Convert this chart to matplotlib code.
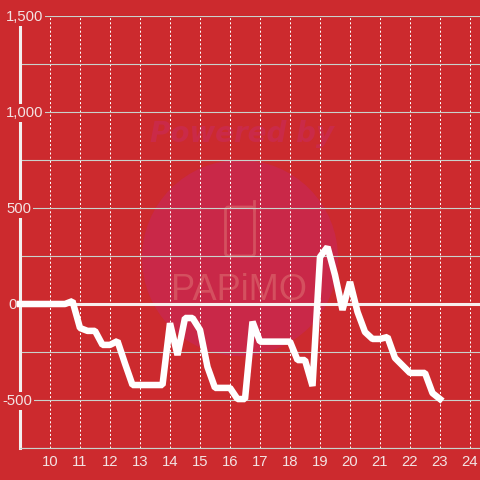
import matplotlib
matplotlib.use("Agg")
import matplotlib.pyplot as plt
from matplotlib.patches import Circle, FancyBboxPatch
from matplotlib.transforms import Affine2D

plt.rcParams['font.family'] = ['Liberation Sans', 'DejaVu Sans']

hours = [9, 9.25, 9.5, 9.75, 10, 10.25, 10.5, 10.75, 11, 11.25, 11.5, 11.75, 12, 12.25,
         12.5, 12.75, 13, 13.25, 13.5, 13.75, 14, 14.25, 14.5, 14.75, 15, 15.25, 15.5,
         15.75, 16, 16.25, 16.5, 16.75, 17, 17.25, 17.5, 17.75, 18, 18.25, 18.5, 18.75,
         19, 19.25, 19.5, 19.75, 20, 20.25, 20.5, 20.75, 21, 21.25, 21.5, 21.75, 22,
         22.25, 22.5, 22.75, 23]
values = [0, 0, 0, 0, 0, 0, 0, 15, -125, -140, -140, -213, -213, -193,
          -310, -422, -422, -422, -422, -422, -100, -266, -73, -73, -135, -328, -437,
          -437, -437, -495, -495, -92, -196, -196, -196, -196, -196, -292, -292, -427,
          245, 297, 151, -31, 115, -41, -146, -182, -182, -172, -281, -320, -359,
          -359, -359, -464, -495]
x_ticks = list(range(10, 25))
y_grid = [-750, -500, -250, 0, 250, 500, 750, 1000, 1250, 1500]
y_labels = {1500: "1,500", 1000: "1,000", 500: "500", 0: "0", -500: "-500"}
label_left_px = {1500: 6, 1000: 6, 500: 6, 0: 8, -500: 2}

BG = "#CC2A2E"
TXT = "#F3E3E3"
GRID = "#C9D2CC"
WHITE = "#FFFFFF"

W = H = 480
fig = plt.figure(figsize=(4.8, 4.8), dpi=100, facecolor=BG)
px = Affine2D().scale(1, -1).translate(0, H)   # image pixel coordinates (y down)

# watermark
fig.add_artist(Circle((240, 258), 98, transform=px, fc="#C92848", ec="none", zorder=-5))
fig.text(242 / W, 1 - 134 / H, "Powered by", fontsize=20, fontweight="bold", fontstyle="italic",
         family="DejaVu Sans", color="#CA2A48", ha="center", va="center", zorder=-4)
fig.add_artist(FancyBboxPatch((225.5, 207), 29, 49, boxstyle="round,pad=0,rounding_size=3",
                              transform=px, fc="none", ec="#D4505F", lw=2.0, zorder=-4))
fig.add_artist(plt.Line2D([254, 254], [201, 210], transform=px, color="#D4505F", lw=2.0, zorder=-4))
fig.text(239 / W, 1 - 290 / H, "PAPiMO", fontsize=26, family="Liberation Sans",
         color="#D4505F", ha="center", va="center", zorder=-4)

ax = fig.add_axes([20 / W, (H - 448) / H, (W - 20) / W, 432 / H])
ax.patch.set_visible(False)
ax.set_xlim(9, 9 + 460 / 30)
ax.set_ylim(-750, 1500)
ax.set_xticks(x_ticks)
ax.set_yticks(y_grid)
ax.set_yticklabels([])
ax.set_axisbelow(True)
ax.grid(axis="y", color=GRID, lw=0.8)
ax.grid(axis="x", color=WHITE, lw=0.72, linestyle=(0, (2, 2.2)))
ax.tick_params(axis="both", length=0)
ax.tick_params(axis="x", colors=TXT, labelsize=10.7, pad=5)
for s in ("top", "right"):
    ax.spines[s].set_visible(False)
ax.spines["left"].set_color("#F3F0F0")
ax.spines["left"].set_linewidth(2.2)
ax.spines["bottom"].set_color(GRID)
ax.spines["bottom"].set_linewidth(0.8)

ax.axhline(0, color="#F7EEEE", lw=2.2, zorder=2)

for v, s in y_labels.items():
    ax.annotate(s, xy=(9, v), xycoords="data",
                xytext=(label_left_px[v] - 20, -1), textcoords="offset pixels",
                ha="left", va="center", fontsize=10.7, color=TXT, zorder=3,
                annotation_clip=False,
                bbox=dict(fc=BG, ec="none", pad=1.4))

ax.plot(hours, values, color=WHITE, lw=4.7, solid_joinstyle="bevel",
        solid_capstyle="projecting", zorder=4, clip_on=False)

fig.savefig("out.png", dpi=100, facecolor=BG)
